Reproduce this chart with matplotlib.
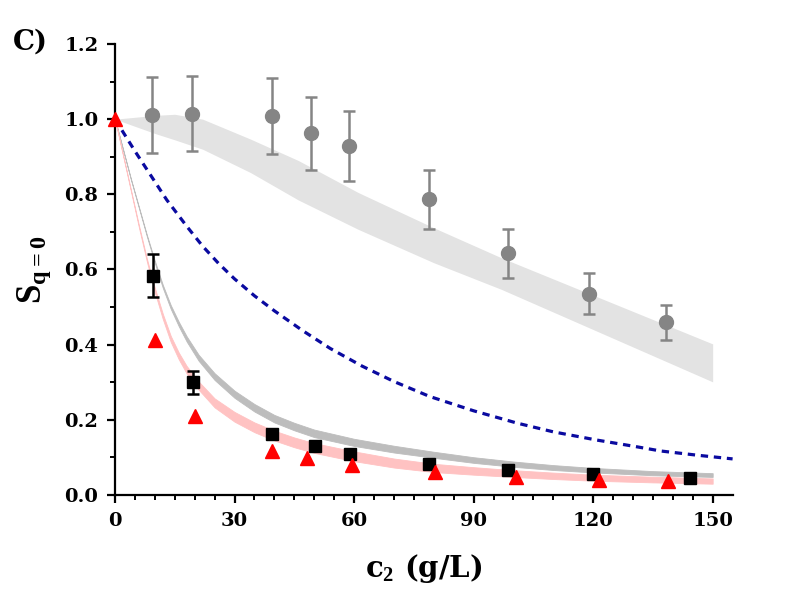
import matplotlib
matplotlib.use("Agg")
import matplotlib.pyplot as plt

# ==========================================================
# DADOS
# ==========================================================

# pontos cinza (círculos) com barras de erro
circ_x = [9.2, 19.2, 39.3, 49.2, 58.7, 78.8, 98.6, 118.9, 138.2]
circ_y = [1.011, 1.015, 1.009, 0.963, 0.928, 0.787, 0.643, 0.536, 0.459]
circ_err = [0.102, 0.101, 0.101, 0.097, 0.093, 0.079, 0.065, 0.055, 0.046]

# quadrados pretos
sq_x = [9.6, 19.6, 39.3, 50.2, 58.9, 78.8, 98.7, 120.0, 144.2]
sq_y = [0.584, 0.300, 0.163, 0.131, 0.108, 0.082, 0.066, 0.056, 0.046]
sq_err = [0.058, 0.030, 0.008, 0.007, 0.006, 0.005, 0.004, 0.004, 0.004]

# triângulos vermelhos
tri_x = [0.0, 10.0, 20.1, 39.3, 48.1, 59.4, 80.3, 100.7, 121.5, 138.8]
tri_y = [1.0, 0.413, 0.211, 0.116, 0.098, 0.080, 0.062, 0.049, 0.040, 0.036]

# faixa cinza clara (superior)
band1_x = [0, 10, 15, 22, 34, 46, 61, 80, 97, 150]
band1_hi = [1.0, 1.010, 1.013, 1.000, 0.947, 0.890, 0.805, 0.711, 0.631, 0.402]
band1_lo = [1.0, 0.962, 0.945, 0.920, 0.858, 0.785, 0.707, 0.618, 0.547, 0.301]

# linha tracejada azul
dash_x = [0, 2, 5, 9, 13, 18, 22, 26, 30, 35, 40, 47, 54, 62, 70, 79, 90, 101, 110, 121, 130, 137, 146, 155]
dash_y = [1.0, 0.966, 0.915, 0.850, 0.785, 0.715, 0.662, 0.616, 0.575, 0.530, 0.490, 0.438, 0.390, 0.343, 0.302, 0.262,
          0.224, 0.191, 0.168, 0.146, 0.130, 0.117, 0.106, 0.096]

# faixa cinza (inferior) e faixa rosa
curve_x = [0, 2, 4, 6, 8, 10, 12, 14, 16, 18, 21, 25, 30, 35, 40, 45, 50, 60, 70, 80, 90, 100, 110, 120, 135, 150]
gray_hi = [1.0, 0.9205, 0.841, 0.7665, 0.692, 0.623, 0.559, 0.505, 0.461, 0.422, 0.373, 0.324, 0.2775, 0.242,
           0.213, 0.192, 0.174, 0.1495, 0.131, 0.115, 0.1005, 0.089, 0.0795, 0.072, 0.0635, 0.058]
gray_lo = [1.0, 0.9195, 0.839, 0.7635, 0.688, 0.617, 0.551, 0.495, 0.449, 0.408, 0.357, 0.306, 0.2585, 0.222,
           0.193, 0.172, 0.154, 0.1305, 0.113, 0.099, 0.0855, 0.075, 0.0665, 0.060, 0.0525, 0.048]
red_hi = [1.0, 0.906, 0.812, 0.718, 0.629, 0.551, 0.482, 0.423, 0.379, 0.343, 0.302, 0.257, 0.221, 0.193,
          0.171, 0.153, 0.138, 0.116, 0.097, 0.083, 0.074, 0.066, 0.0595, 0.054, 0.0485, 0.044]
red_lo = [1.0, 0.904, 0.808, 0.712, 0.621, 0.539, 0.468, 0.407, 0.361, 0.323, 0.280, 0.233, 0.195, 0.167,
          0.145, 0.127, 0.112, 0.090, 0.073, 0.061, 0.054, 0.048, 0.0425, 0.038, 0.0335, 0.030]

# ==========================================================
# ESTILO
# ==========================================================

plt.rcParams["font.family"] = "DejaVu Serif"
plt.rcParams["font.weight"] = "bold"
plt.rcParams["mathtext.fontset"] = "custom"
plt.rcParams["mathtext.rm"] = "Liberation Serif:bold"
plt.rcParams["mathtext.bf"] = "Liberation Serif:bold"
plt.rcParams["mathtext.it"] = "Liberation Serif:bold"

fig = plt.figure(figsize=(8, 6.06), dpi=100)
ax = fig.add_axes([0.14375, 0.1832, 0.772, 0.7442])

# ==========================================================
# GRÁFICO
# ==========================================================

ax.fill_between(band1_x, band1_lo, band1_hi, color="#e3e3e3", lw=0, zorder=1)
ax.fill_between(curve_x, gray_lo, gray_hi, color="#bdbdbd", lw=0.6, edgecolor="#bdbdbd", zorder=2)
ax.fill_between(curve_x, red_lo, red_hi, color="#ffc2c2", lw=0.6, edgecolor="#ffc2c2", zorder=3)

ax.plot(dash_x, dash_y, color="#0a0aa0", lw=2.3, ls=(0, (2.3, 1.8)), zorder=4)

ax.errorbar(circ_x, circ_y, yerr=circ_err, fmt="o", color="#858585",
            ms=10, elinewidth=1.8, capsize=4.5, capthick=1.8, zorder=5)

ax.errorbar(sq_x, sq_y, yerr=sq_err, fmt="s", color="black",
            ms=8.5, elinewidth=1.8, capsize=4.5, capthick=1.8, zorder=6)

ax.plot(tri_x, tri_y, "^", color="#ff0000", ms=10.5, ls="none",
        zorder=7, clip_on=False)

ax.set_xlim(0, 155)
ax.set_ylim(0, 1.2)

ax.set_xticks([0, 30, 60, 90, 120, 150])
ax.set_xticks(range(5, 155, 5), minor=True)
ax.set_yticks([0.0, 0.2, 0.4, 0.6, 0.8, 1.0, 1.2])
ax.set_yticks([0.1, 0.3, 0.5, 0.7, 0.9, 1.1], minor=True)
ax.set_yticklabels(["0.0", "0.2", "0.4", "0.6", "0.8", "1.0", "1.2"])

ax.spines["top"].set_visible(False)
ax.spines["right"].set_visible(False)
for s in ["left", "bottom"]:
    ax.spines[s].set_linewidth(1.6)

ax.tick_params(which="major", direction="out", length=6, width=1.6,
               labelsize=14, pad=6)
ax.tick_params(which="minor", direction="out", length=3.6, width=1.4)

ax.set_xlabel(r"c$_\mathbf{2}$ (g/L)", fontsize=21, fontweight="bold", labelpad=16)
ax.set_ylabel(r"$\mathbf{S_{q=0}}$", fontsize=25, fontweight="bold", labelpad=8)

fig.text(0.016, 0.9175, "C)", fontsize=20, fontweight="bold", va="baseline")

fig.savefig("out.png", dpi=100)
